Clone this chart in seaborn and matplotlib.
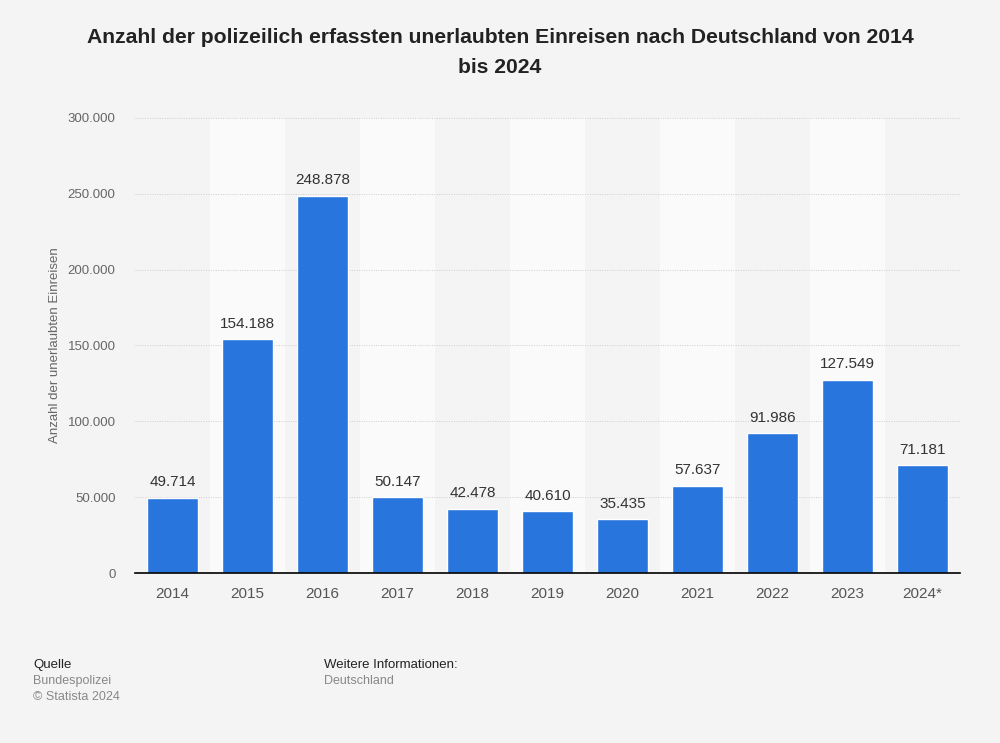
import matplotlib
matplotlib.use("Agg")
import matplotlib.pyplot as plt
import seaborn as sns
import pandas as pd

years = ["2014", "2015", "2016", "2017", "2018", "2019", "2020", "2021", "2022", "2023", "2024*"]
values = [49714, 154188, 248878, 50147, 42478, 40610, 35435, 57637, 91986, 127549, 71181]
yticks = [0, 50000, 100000, 150000, 200000, 250000, 300000]

def fmt(v):
    return f"{v:,}".replace(",", ".")

sns.set_theme(style="white")
plt.rcParams['font.family'] = ['Liberation Sans', 'DejaVu Sans']

bg = "#f4f4f4"
fig = plt.figure(figsize=(10, 7.43), dpi=100, facecolor=bg)
ax = fig.add_axes([0.135, 0.2288, 0.825, 0.6124])
ax.set_facecolor(bg)

df = pd.DataFrame({"year": years, "value": values})
sns.barplot(data=df, x="year", y="value", color="#2876dd", width=0.69, ax=ax, zorder=3, saturation=1)

for i in range(len(years)):
    if i % 2 == 1:
        ax.axvspan(i - 0.5, i + 0.5, color="#fafafa", zorder=0, lw=0)

ax.set_xlim(-0.5, len(years) - 0.5)
ax.set_ylim(0, 300000)
ax.set_yticks(yticks)
ax.set_yticklabels([fmt(v) for v in yticks], color="#666666", fontsize=9.5)
for t in ax.get_xticklabels():
    t.set_color("#555555")
    t.set_fontsize(11)
ax.tick_params(axis="x", length=0, pad=10)
ax.tick_params(axis="y", length=0, pad=14)
ax.yaxis.grid(True, linestyle=(0, (1, 1.5)), color="#cccccc", lw=0.7, zorder=1)
ax.set_axisbelow(False)
for s in ["top", "right", "left"]:
    ax.spines[s].set_visible(False)
ax.spines["bottom"].set_color("#000000")
ax.spines["bottom"].set_linewidth(1.2)
ax.spines["bottom"].set_zorder(5)
ax.set_xlabel("")
ax.set_ylabel("Anzahl der unerlaubten Einreisen", color="#666666", fontsize=9.5, labelpad=5)

for i, v in enumerate(values):
    ax.annotate(fmt(v), (i, v), xytext=(0, 6), textcoords="offset points",
                ha="center", va="bottom", fontsize=11, color="#333333", zorder=6)

fig.text(0.5, 0.949, "Anzahl der polizeilich erfassten unerlaubten Einreisen nach Deutschland von 2014",
         ha="center", va="center", fontsize=15.2, fontweight="bold", color="#222222")
fig.text(0.5, 0.909, "bis 2024", ha="center", va="center", fontsize=15.2, fontweight="bold", color="#222222")

fig.text(0.033, 0.105, "Quelle", fontsize=9.5, color="#222222", va="center")
fig.text(0.033, 0.083, "Bundespolizei", fontsize=9, color="#888888", va="center")
fig.text(0.033, 0.062, "© Statista 2024", fontsize=9, color="#888888", va="center")
fig.text(0.324, 0.105, "Weitere Informationen:", fontsize=9.5, color="#222222", va="center")
fig.text(0.324, 0.083, "Deutschland", fontsize=9, color="#888888", va="center")

fig.savefig("out.png", dpi=100, facecolor=bg)
